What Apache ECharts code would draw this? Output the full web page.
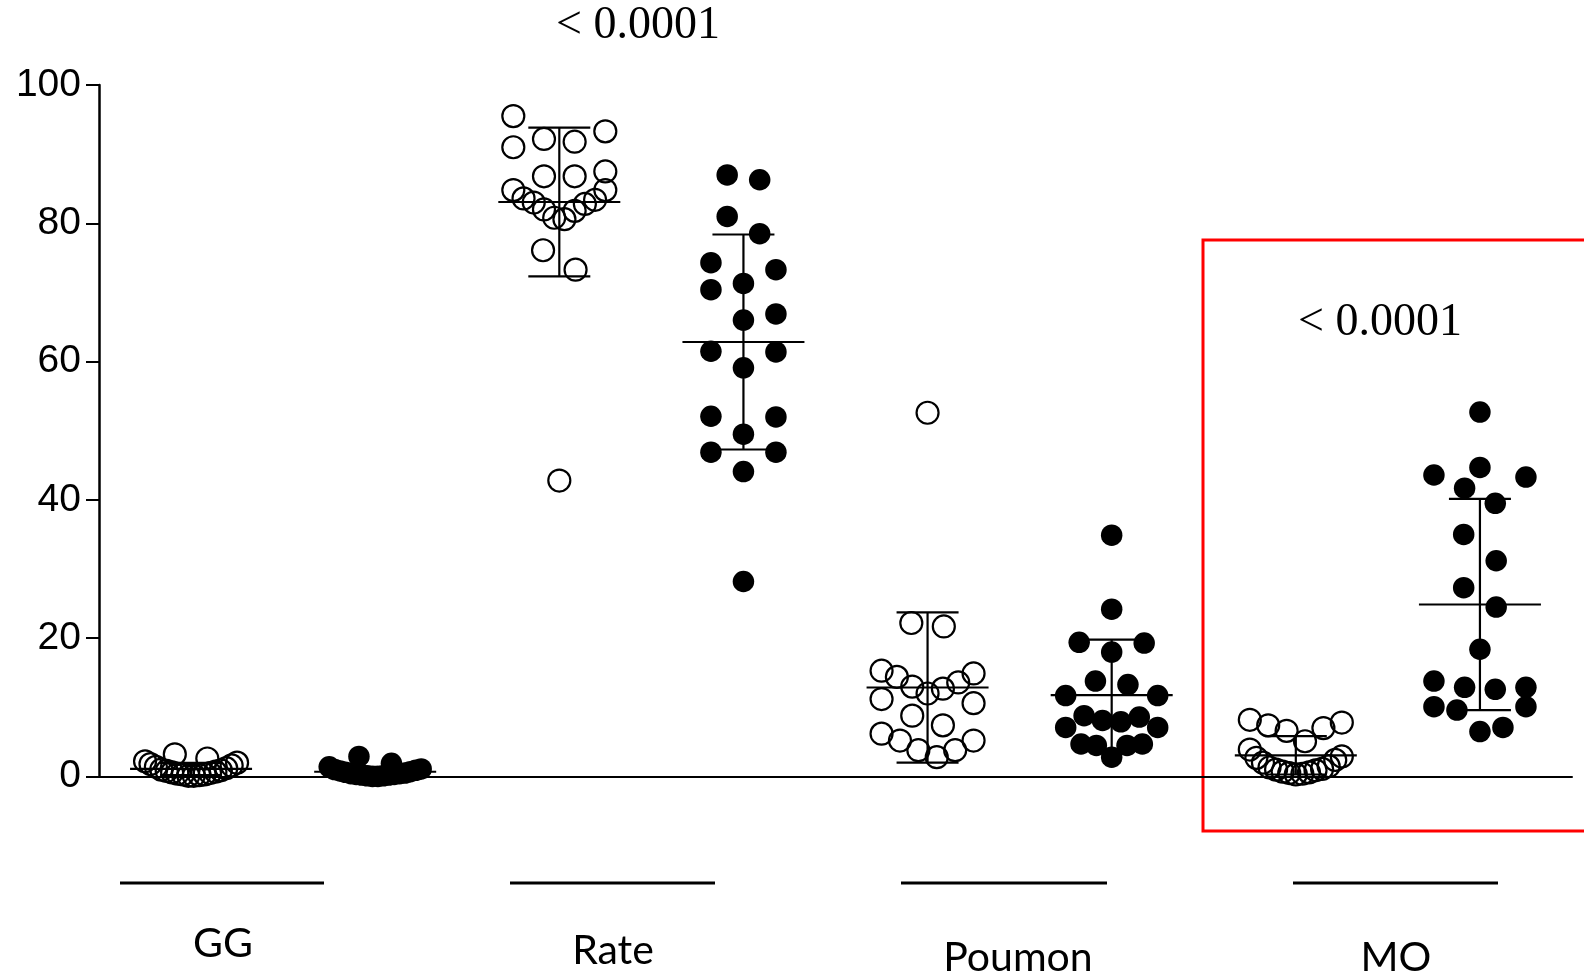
<!DOCTYPE html>
<html>
<head>
<meta charset="utf-8">
<script src="https://cdn.jsdelivr.net/npm/echarts@6/dist/echarts.min.js"></script>
<style>
  html, body { margin: 0; padding: 0; background: #fff; }
  #chart { width: 1584px; height: 977px; }
</style>
</head>
<body>
<div id="chart"></div>
<script>
// ---------------- data ----------------
const groupNames = ['GG', 'Rate', 'Poumon', 'MO'];
const pValueText = '< 0.0001';
const yTickValues = [0, 20, 40, 60, 80, 100];

const ggOpen = [0.1, 0.1, 0.2, 0.3, 0.3, 0.4, 0.5, 0.6, 0.7, 0.8, 0.9, 1.0, 1.2, 1.4, 1.6, 1.8, 2.0, 2.2, 2.6, 3.2];
const ggFilled = [0.0, 0.0, 0.1, 0.1, 0.2, 0.2, 0.3, 0.3, 0.4, 0.4, 0.5, 0.6, 0.7, 0.8, 0.9, 1.0, 1.1, 1.4, 1.9, 2.9];
const rateOpen = [95.5, 93.3, 91.0, 91.8, 92.2, 86.8, 86.8, 87.5, 84.8, 84.8, 83.6, 83.0, 82.0, 80.8, 80.6, 81.8, 82.8, 83.4, 76.1, 73.3, 42.8];
const rateFilled = [87.0, 86.3, 81.0, 78.5, 73.3, 74.3, 70.4, 71.3, 66.0, 66.9, 61.4, 61.5, 59.1, 52.1, 52.0, 49.5, 46.9, 46.9, 44.1, 28.2];
const poumonOpen = [52.6, 22.2, 21.7, 14.9, 15.3, 12.0, 13.6, 13.0, 14.4, 12.7, 11.2, 10.6, 8.8, 7.4, 5.2, 3.8, 2.8, 3.8, 5.2, 6.2];
const poumonFilled = [34.9, 24.2, 19.3, 19.4, 18.0, 13.3, 13.8, 11.7, 11.7, 8.8, 7.1, 8.1, 7.9, 8.6, 7.1, 4.7, 4.5, 2.8, 4.5, 4.7];
const moOpen = [8.2, 7.8, 7.4, 7.0, 6.6, 5.1, 3.9, 2.9, 2.7, 2.4, 2.0, 1.5, 1.3, 1.1, 1.0, 0.9, 0.7, 0.6, 0.5, 0.4, 0.3];
const moFilled = [52.7, 43.6, 44.7, 43.3, 41.7, 39.5, 35.0, 31.2, 27.3, 24.5, 18.4, 13.8, 12.9, 12.6, 12.9, 10.1, 9.6, 10.1, 6.5, 7.1];

// column order on the x axis: open / filled for each group
const columns = [ggOpen, ggFilled, rateOpen, rateFilled, poumonOpen, poumonFilled, moOpen, moFilled];
const columnIsOpen = [true, false, true, false, true, false, true, false];

// ---------------- layout (not data) ----------------
const W = 1584, H = 977;
const GRID = { left: 99, right: 12, top: 85, bottom: 200.5 };
const PX_PER_UNIT = (W - GRID.left - GRID.right) / columns.length;
const ROW_H = 4.5;      // value range grouped into one row of the dot plot
const MAX_PER_ROW = 18; // a row never holds more dots than this
const STEP_PX = 32.5;   // horizontal spacing of dots in a row
const MAX_ROW_PX = 92;  // widest spread of a row
const MEAN_HALF = 61, CAP_HALF = 31;

// Prism-like row layout: lowest values of a row in the middle, spreading out
function dotLayout(values, col) {
  const sorted = values.slice().sort((a, b) => a - b);
  const rows = [];
  let cur = [];
  for (const v of sorted) {
    if (cur.length && (v - cur[0] >= ROW_H || cur.length >= MAX_PER_ROW)) { rows.push(cur); cur = []; }
    cur.push(v);
  }
  if (cur.length) rows.push(cur);
  const pts = [];
  rows.forEach(row => {
    const n = row.length;
    const step = n > 1 ? Math.min(STEP_PX, MAX_ROW_PX / (n - 1)) : 0;
    const slots = [];
    for (let k = 0; k < n; k++) slots.push((k - (n - 1) / 2) * step);
    slots.sort((a, b) => (Math.abs(a) - Math.abs(b)) || (b - a));
    row.forEach((v, i) => pts.push([col + slots[i] / PX_PER_UNIT, v]));
  });
  return pts;
}

function stats(values) {
  const n = values.length;
  const m = values.reduce((s, v) => s + v, 0) / n;
  const sd = Math.sqrt(values.reduce((s, v) => s + (v - m) * (v - m), 0) / (n - 1));
  return [m, sd];
}

const openPts = [], filledPts = [], barData = [];
columns.forEach((vals, i) => {
  const p = dotLayout(vals, i);
  (columnIsOpen[i] ? openPts : filledPts).push(...p);
  const [m, sd] = stats(vals);
  barData.push([i, m, sd]);
});

const LINE = { stroke: '#000', lineWidth: 2.2 };

const chart = echarts.init(document.getElementById('chart'), null, { renderer: 'canvas' });

// group labels and p-values (annotation positions)
const groupLinePos = [[120, 324], [510, 715], [901, 1107], [1293, 1498]];
const groupLabelPos = [[223, 944], [613, 951], [1018, 958], [1396, 958]];
const graphics = [];
groupNames.forEach((name, i) => {
  graphics.push({
    type: 'line', silent: true,
    shape: { x1: groupLinePos[i][0], y1: 883, x2: groupLinePos[i][1], y2: 883 },
    style: { stroke: '#000', lineWidth: 3 }
  });
  graphics.push({
    type: 'text', silent: true, x: groupLabelPos[i][0], y: groupLabelPos[i][1],
    style: { text: name, fill: '#000', font: '41px Lato', textAlign: 'center', textVerticalAlign: 'middle' }
  });
});
[[638, 26], [1380, 323]].forEach(p => {
  graphics.push({
    type: 'text', silent: true, x: p[0], y: p[1],
    style: { text: pValueText, fill: '#000', font: '46px "Liberation Serif"', textAlign: 'center', textVerticalAlign: 'middle' }
  });
});
graphics.push({
  type: 'rect', silent: true,
  shape: { x: 1203, y: 240, width: 500, height: 591 },
  style: { fill: 'none', stroke: '#ff0000', lineWidth: 3 }
});

chart.setOption({
  animation: false,
  backgroundColor: '#fff',
  grid: GRID,
  xAxis: {
    type: 'value', min: -0.5, max: columns.length - 0.5,
    axisLine: { show: true, onZero: false, lineStyle: { color: '#000', width: 2 } },
    axisTick: { show: false }, axisLabel: { show: false }, splitLine: { show: false }
  },
  yAxis: {
    type: 'value', min: yTickValues[0], max: yTickValues[yTickValues.length - 1], interval: 20,
    axisLine: { show: true, onZero: false, lineStyle: { color: '#000', width: 2.5 } },
    axisTick: { show: true, length: 13, lineStyle: { color: '#000', width: 2 } },
    axisLabel: { color: '#000', fontSize: 39, fontFamily: '"Liberation Sans", Arial, sans-serif', margin: 18 },
    splitLine: { show: false }
  },
  series: [
    {
      type: 'custom', z: 1, clip: false,
      renderItem: function (params, api) {
        const x = api.value(0), m = api.value(1), sd = api.value(2);
        const c = api.coord([x, m]);
        const t = api.coord([x, m + sd]);
        const b = api.coord([x, m - sd]);
        return {
          type: 'group',
          children: [
            { type: 'line', shape: { x1: c[0] - MEAN_HALF, y1: c[1], x2: c[0] + MEAN_HALF, y2: c[1] }, style: LINE },
            { type: 'line', shape: { x1: c[0], y1: t[1], x2: c[0], y2: b[1] }, style: LINE },
            { type: 'line', shape: { x1: c[0] - CAP_HALF, y1: t[1], x2: c[0] + CAP_HALF, y2: t[1] }, style: LINE },
            { type: 'line', shape: { x1: c[0] - CAP_HALF, y1: b[1], x2: c[0] + CAP_HALF, y2: b[1] }, style: LINE }
          ]
        };
      },
      data: barData
    },
    {
      type: 'scatter', z: 3, clip: false, symbol: 'circle', symbolSize: 21.5,
      itemStyle: { color: '#000', opacity: 1 },
      data: filledPts
    },
    {
      type: 'scatter', z: 4, clip: false, symbol: 'circle', symbolSize: 22,
      itemStyle: { color: 'rgba(0,0,0,0)', borderColor: '#000', borderWidth: 2.2, opacity: 1 },
      data: openPts
    }
  ],
  graphic: graphics
});
</script>
</body>
</html>
